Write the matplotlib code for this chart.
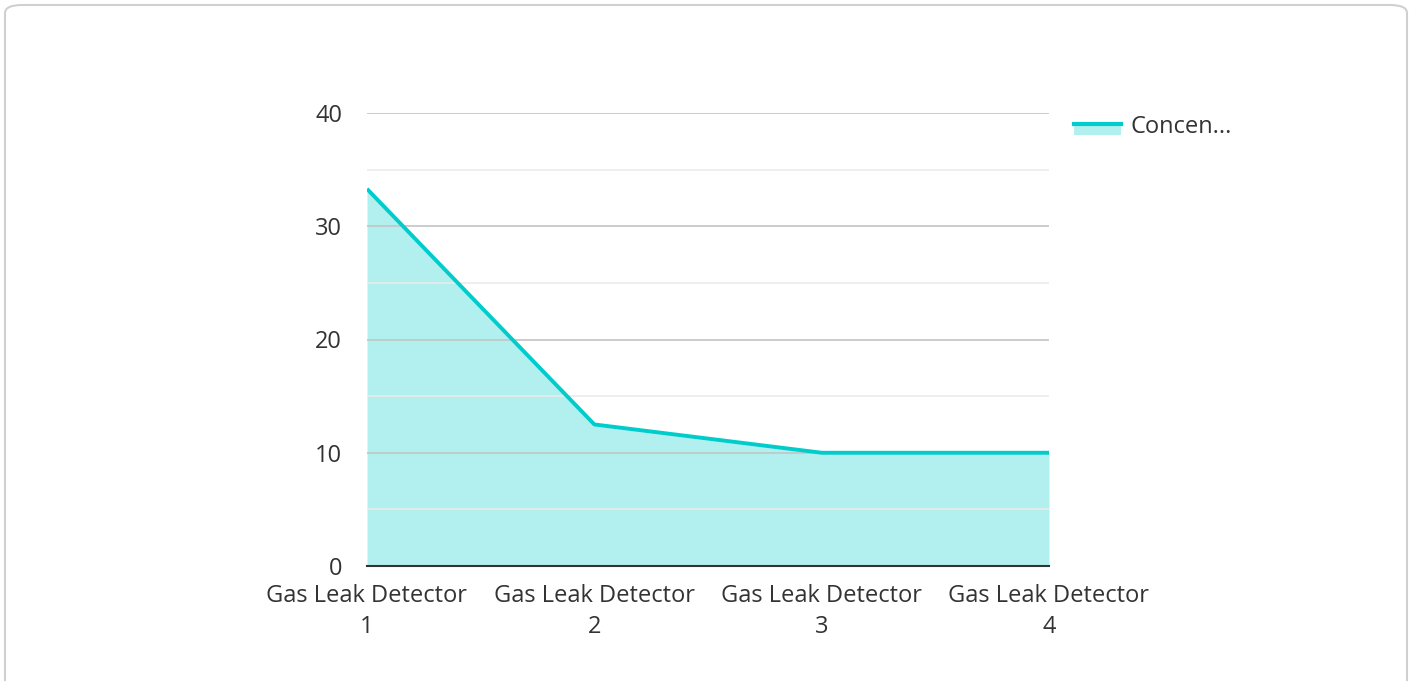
import matplotlib

matplotlib.use("Agg")
import matplotlib.pyplot as plt
from matplotlib.patches import FancyBboxPatch, Rectangle
from matplotlib.lines import Line2D
import numpy as np

plt.rcParams["font.family"] = ["Open Sans", "DejaVu Sans"]

categories = ["Gas Leak Detector\n1", "Gas Leak Detector\n2",
              "Gas Leak Detector\n3", "Gas Leak Detector\n4"]
concentration = [33.3, 12.5, 10, 10]
series_name = "Concen..."
y_ticks = [0, 10, 20, 30, 40]
y_minor = [5, 15, 25, 35]

LINE = "#00CCCC"
FILL = "#B2EFEF"
TEXT = "#333333"
FS = 17

fig = plt.figure(figsize=(14.12, 6.81), dpi=100)

# rounded card border
card = FancyBboxPatch((5 / 1412, -20 / 681), 1402 / 1412, 696 / 681,
                      boxstyle="round,pad=0,rounding_size=0.012",
                      transform=fig.transFigure, facecolor="white",
                      edgecolor="#d0d0d0", linewidth=1.5, zorder=-5)
fig.patches.append(card)

ax = fig.add_axes([367 / 1412, 1 - 566 / 681, (1049 - 367) / 1412, (566 - 113) / 681])
ax.set_zorder(2)
ax.set_facecolor("none")
x = np.arange(len(categories))
ax.fill_between(x, concentration, 0, color=FILL, lw=0, zorder=2)
ax.plot(x, concentration, color=LINE, lw=2.8, zorder=3, solid_capstyle="butt")

ax.set_xlim(0, len(categories) - 1)
ax.set_ylim(0, 40)
ax.set_yticks(y_ticks)
ax.set_yticks(y_minor, minor=True)
ax.set_xticks(x)
ax.set_xticklabels(categories, fontsize=FS, color=TEXT, linespacing=1.4)
ax.tick_params(axis="y", which="major", length=0, pad=18, labelsize=FS, labelcolor=TEXT)
ax.tick_params(axis="y", which="minor", length=0)
ax.tick_params(axis="x", length=0, pad=13)
ax.grid(axis="y", which="major", color="#c4c4c4", lw=1.2, zorder=4)
ax.grid(axis="y", which="minor", color="#ebebeb", lw=1.2, zorder=1)
ax.set_axisbelow(False)
for side in ["top", "right", "left"]:
    ax.spines[side].set_visible(False)
ax.spines["bottom"].set_color(TEXT)
ax.spines["bottom"].set_linewidth(1.5)
ax.spines["bottom"].set_zorder(5)

# legend
fig.patches.append(Rectangle((1074 / 1412, 1 - 135 / 681), 47 / 1412, 11 / 681,
                             transform=fig.transFigure, facecolor=FILL, lw=0))
fig.lines.append(Line2D([1074 / 1412, 1121 / 1412], [1 - 124 / 681] * 2,
                        transform=fig.transFigure, color=LINE, lw=3))
fig.text(1131 / 1412, 1 - 127 / 681, series_name, fontsize=FS, color=TEXT,
         va="center", ha="left")

fig.savefig("out.png", dpi=100)
